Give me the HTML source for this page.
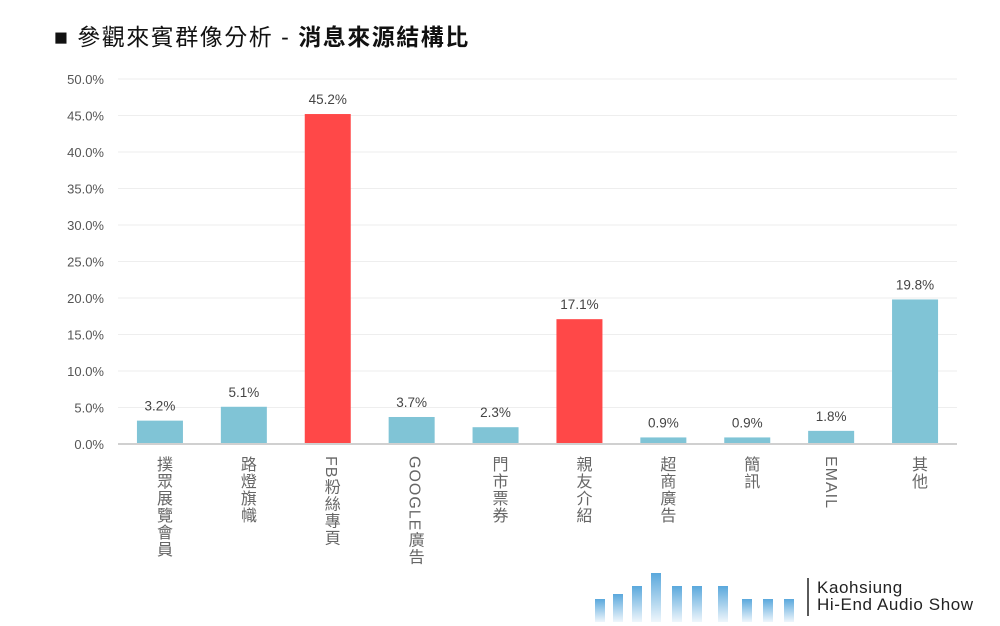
<!DOCTYPE html>
<html><head><meta charset="utf-8">
<style>
body{margin:0;background:#fff;font-family:"Liberation Sans","Noto Sans CJK TC",sans-serif}
#wrap{position:relative;width:1000px;height:626px;overflow:hidden}
.title{position:absolute;left:54px;top:18px;font-size:23px;letter-spacing:1.5px;color:#111;white-space:nowrap}
.title b{font-weight:bold}
.xl{position:absolute;top:456px;writing-mode:vertical-rl;font-size:16px;color:#666;letter-spacing:1px;font-family:"Liberation Sans","Noto Sans CJK TC",sans-serif}
</style></head>
<body>
<div id="wrap">
<div class="title">■ 參觀來賓群像分析 - <b>消息來源結構比</b></div>
<svg id="chart" width="1000" height="626" style="position:absolute;left:0;top:0"></svg>
<div id="labels"></div>
<svg width="1000" height="626" style="position:absolute;left:0;top:0">
<defs><linearGradient id="lg" x1="0" y1="0" x2="0" y2="1"><stop offset="0" stop-color="#5aa8dc"/><stop offset="1" stop-color="#5aa8dc" stop-opacity="0.1"/></linearGradient></defs>
<g fill="url(#lg)">
<rect x="595" y="599" width="10" height="23"/><rect x="613" y="594" width="10" height="28"/><rect x="632" y="586" width="10" height="36"/><rect x="651" y="573" width="10" height="49"/><rect x="672" y="586" width="10" height="36"/><rect x="692" y="586" width="10" height="36"/><rect x="718" y="586" width="10" height="36"/><rect x="742" y="599" width="10" height="23"/><rect x="763" y="599" width="10" height="23"/><rect x="784" y="599" width="10" height="23"/>
</g>
<line x1="808" y1="578" x2="808" y2="616" stroke="#222" stroke-width="1.5"/>
<text x="817" y="593" font-size="17" letter-spacing="0.6" fill="#222" font-family="Liberation Sans">Kaohsiung</text>
<text x="817" y="610" font-size="17" letter-spacing="0.6" fill="#222" font-family="Liberation Sans">Hi-End Audio Show</text>
</svg>
</div>
<script>
const cats=["撲眾展覽會員","路燈旗幟","FB粉絲專頁","GOOGLE廣告","門市票券","親友介紹","超商廣告","簡訊","EMAIL","其他"];
const values=[3.2,5.1,45.2,3.7,2.3,17.1,0.9,0.9,1.8,19.8];
const highlight=[0,0,1,0,0,1,0,0,0,0];
const ticks=[0,5,10,15,20,25,30,35,40,45,50];
const L=118,R=957,B=444,T=79,max=50;
const y=v=>B-(B-T)*v/max;
const step=(R-L)/cats.length;
const x=i=>L+step*(i+0.5);
const svg=document.getElementById('chart');
const NS="http://www.w3.org/2000/svg";
function mk(t,a){const e=document.createElementNS(NS,t);for(const k in a)e.setAttribute(k,a[k]);svg.appendChild(e);return e;}
ticks.forEach(t=>{
 const g=mk('line',{x1:L,x2:R,y1:y(t),y2:y(t),stroke:t?'#eeeeee':'#d0d0d0','stroke-width':t?1:2});
 
 
 const tx=mk('text',{x:104,y:y(t)+5,'text-anchor':'end','font-size':13,fill:'#555','font-family':'Liberation Sans'});
 tx.textContent=t.toFixed(1)+'%';
 
 
});
const labels=document.getElementById('labels');
values.forEach((v,i)=>{
 const r=mk('rect',{x:x(i)-23,y:y(v),width:46,height:B-y(v)-1,fill:highlight[i]?'#ff4848':'#80c4d6'});
 
 
 const t=mk('text',{x:x(i),y:y(v)-10,'text-anchor':'middle','font-size':13.5,fill:'#444','font-family':'Liberation Sans'});
 t.textContent=v.toFixed(1)+'%';
 
 
 const d=document.createElement('div');
 d.className='xl';d.textContent=cats[i];
 d.style.left=(x(i)-10)+'px';
 
 
 labels.appendChild(d);
});
</script>
</body></html>
